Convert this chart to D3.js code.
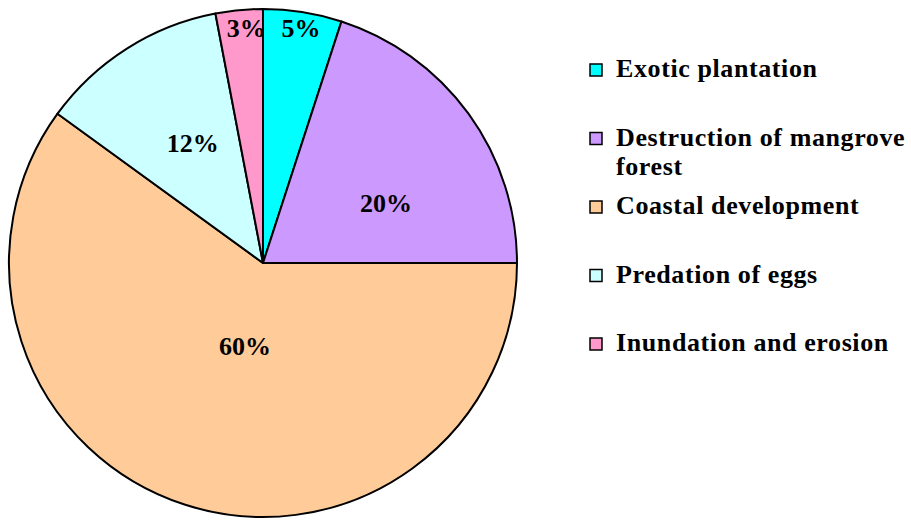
<!DOCTYPE html>
<html>
<head>
<meta charset="utf-8">
<script src="https://cdn.jsdelivr.net/npm/d3@7"></script>
<style>
  body { margin: 0; background: #fff; }
  text { font-family: "Liberation Serif", "Times New Roman", serif; font-weight: bold; }
</style>
</head>
<body>
<div id="chart"></div>
<script>
var categories = ["Exotic plantation", "Destruction of mangrove forest", "Coastal development", "Predation of eggs", "Inundation and erosion"];
var values = [5, 20, 60, 12, 3];
var colors = ["#00ffff", "#cc99ff", "#ffcc99", "#ccffff", "#ff99cc"];

// label placement (radius fraction, angle shift in degrees) - excel puts them a bit oddly
var labelLayout = [[0.937, 0.2], [0.54, 9.8], [0.335, -5.8], [0.547, 2], [0.93, 1.3]];

var svg = d3.select("#chart").append("svg").attr("width", 911).attr("height", 521);

var cx = 263, cy = 263, r = 254;
var g = svg.append("g").attr("transform", "translate(" + cx + "," + cy + ")");

var pie = d3.pie().sort(null).value(function(d) { return d; });
var arcs = pie(values);
var arc = d3.arc().innerRadius(0).outerRadius(r);

g.selectAll("path").data(arcs).enter().append("path")
  .attr("d", arc)
  .attr("fill", function(d, i) { return colors[i]; })
  .attr("stroke", "#000").attr("stroke-width", 2).attr("stroke-linejoin", "round");

g.selectAll("text.lbl").data(arcs).enter().append("text")
  .attr("class", "lbl")
  .attr("x", function(d, i) {
    var a = (d.startAngle + d.endAngle) / 2 + labelLayout[i][1] * Math.PI / 180;
    return Math.sin(a) * r * labelLayout[i][0];
  })
  .attr("y", function(d, i) {
    var a = (d.startAngle + d.endAngle) / 2 + labelLayout[i][1] * Math.PI / 180;
    return -Math.cos(a) * r * labelLayout[i][0];
  })
  .attr("dy", "0.35em")
  .attr("text-anchor", "middle")
  .attr("font-size", 26)
  .text(function(d) { return d.data + "%"; });

// legend, y = first-line baseline
var legendY = d3.scalePoint().domain(d3.range(categories.length)).range([77, 351]);
var legend = svg.append("g");
var items = legend.selectAll("g").data(categories).enter().append("g")
  .attr("transform", function(d, i) { return "translate(590," + legendY(i) + ")"; });

items.append("rect")
  .attr("x", 0).attr("y", -13).attr("width", 12).attr("height", 12)
  .attr("fill", function(d, i) { return colors[i]; })
  .attr("stroke", "#000").attr("stroke-width", 1.5);

items.append("text")
  .attr("x", 26)
  .attr("font-size", 26)
  .attr("letter-spacing", 0.6)
  .each(function(d) {
    var t = d3.select(this);
    if (d == "Destruction of mangrove forest") {
      t.append("tspan").attr("x", 26).attr("y", 0).text("Destruction of mangrove");
      t.append("tspan").attr("x", 26).attr("dy", 29).text("forest");
    } else {
      t.text(d);
    }
  });
</script>
</body>
</html>
